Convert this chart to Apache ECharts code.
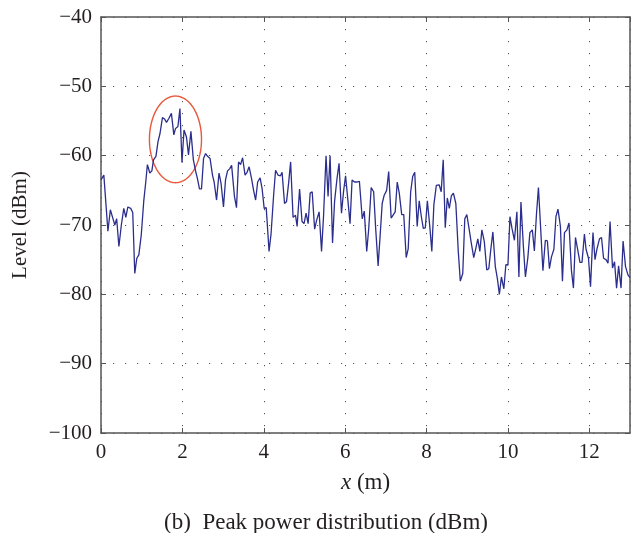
<!DOCTYPE html>
<html>
<head>
<meta charset="utf-8">
<script src="https://cdn.jsdelivr.net/npm/echarts@6/dist/echarts.min.js"></script>
<style>
html,body{margin:0;padding:0;background:#fff;}
#chart{width:631px;height:533px;}
</style>
</head>
<body>
<div id="chart"></div>
<script>
// Distance along path (m)
const xs = [
0.00,0.07,0.17,0.23,0.29,0.34,0.385,0.44,0.50,0.56,0.61,0.66,0.73,0.78,0.83,0.88,0.93,0.99,1.05,1.10,
1.14,1.20,1.25,1.29,1.35,1.40,1.45,1.51,1.56,1.61,1.67,1.73,1.79,1.83,1.89,1.94,1.99,2.04,2.10,2.15,
2.21,2.27,2.32,2.37,2.42,2.47,2.52,2.57,2.62,2.68,2.74,2.78,2.84,2.90,2.95,3.01,3.06,3.11,3.16,3.21,
3.28,3.33,3.38,3.43,3.48,3.54,3.59,3.64,3.70,3.75,3.80,3.85,3.91,3.96,4.01,4.06,4.13,4.18,4.24,4.29,
4.35,4.41,4.45,4.51,4.56,4.61,4.66,4.72,4.78,4.82,4.88,4.94,4.99,5.04,5.09,5.14,5.19,5.25,5.30,5.36,
5.42,5.47,5.53,5.58,5.63,5.69,5.74,5.80,5.85,5.91,5.96,6.01,6.07,6.12,6.17,6.23,6.28,6.35,6.42,6.47,
6.53,6.58,6.64,6.70,6.75,6.81,6.86,6.91,6.96,7.02,7.07,7.13,7.17,7.23,7.28,7.33,7.39,7.44,7.50,7.55,
7.61,7.66,7.71,7.77,7.82,7.87,7.92,7.97,8.02,8.08,8.13,8.18,8.24,8.31,8.36,8.41,8.46,8.51,8.56,8.61,
8.66,8.72,8.78,8.83,8.89,8.94,8.99,9.05,9.10,9.16,9.21,9.26,9.31,9.36,9.42,9.48,9.53,9.58,9.63,9.69,
9.74,9.79,9.84,9.90,9.95,10.00,10.05,10.10,10.16,10.22,10.27,10.32,10.38,10.43,10.49,10.54,10.60,10.65,10.70,10.75,
10.80,10.86,10.92,10.97,11.02,11.07,11.13,11.18,11.23,11.29,11.34,11.39,11.45,11.50,11.56,11.61,11.66,11.71,11.77,11.82,
11.88,11.92,11.98,12.03,12.09,12.14,12.19,12.25,12.30,12.35,12.41,12.46,12.51,12.57,12.62,12.67,12.72,12.78,12.83,12.89,
12.95,13.00
];
// Peak power level (dBm)
const levels = [
-63.5,-62.8,-70.9,-67.8,-69.0,-70.0,-69.1,-73.1,-70.0,-67.6,-68.9,-67.4,-67.6,-68.2,-77.0,-74.8,-74.3,-71.4,-66.6,-63.8,
-61.3,-62.5,-62.2,-60.6,-60.1,-58.0,-56.8,-54.5,-54.7,-55.2,-54.6,-53.9,-57.0,-56.1,-55.8,-53.2,-61.0,-56.3,-57.3,-59.9,
-56.5,-60.6,-62.1,-63.3,-64.8,-64.8,-60.4,-59.7,-60.1,-60.4,-62.8,-63.8,-66.4,-62.5,-64.0,-67.4,-63.5,-62.2,-61.9,-61.4,
-65.9,-67.5,-60.9,-61.3,-60.3,-62.8,-62.4,-61.6,-63.3,-65.0,-66.4,-63.8,-63.2,-64.8,-67.6,-67.5,-73.8,-71.2,-65.9,-62.1,
-62.8,-62.9,-62.4,-66.9,-66.6,-64.0,-60.9,-68.9,-68.6,-70.2,-64.8,-69.5,-69.8,-68.3,-69.8,-65.4,-65.2,-70.6,-69.3,-68.1,
-73.8,-68.6,-60.0,-65.9,-60.0,-72.6,-66.6,-63.3,-61.1,-68.3,-65.2,-62.9,-66.6,-69.8,-63.5,-63.8,-63.8,-63.7,-69.1,-68.0,
-73.8,-70.5,-64.6,-65.2,-70.5,-75.9,-71.5,-66.9,-65.7,-65.0,-62.3,-69.0,-68.8,-68.1,-63.8,-65.4,-68.5,-68.5,-74.7,-73.4,
-65.2,-63.0,-62.4,-70.2,-66.5,-68.7,-70.5,-70.4,-66.5,-70.2,-73.8,-67.1,-64.3,-64.2,-65.2,-60.6,-70.4,-66.1,-67.6,-65.8,
-65.4,-66.9,-73.8,-78.1,-77.0,-69.1,-68.5,-70.7,-72.6,-74.7,-73.4,-72.0,-73.8,-70.7,-72.4,-76.5,-76.3,-73.5,-71.0,-76.0,
-77.7,-80.0,-77.5,-79.2,-75.7,-75.8,-68.8,-70.5,-72.2,-68.1,-77.5,-66.7,-73.1,-77.5,-74.7,-71.1,-70.7,-73.75,-68.6,-64.6,
-70.0,-76.6,-72.2,-72.3,-76.3,-74.6,-73.5,-68.8,-67.7,-70.2,-78.1,-71.1,-70.7,-69.7,-76.5,-79.1,-71.8,-73.4,-75.4,-75.4,
-71.3,-73.5,-74.8,-78.9,-71.1,-75.0,-73.4,-72.0,-71.8,-74.8,-75.0,-75.5,-69.5,-76.2,-75.3,-79.1,-75.9,-79.1,-72.3,-76.0,
-77.2,-77.6
];
// Highlight annotation (ellipse around the peak region), in data units: [cx, cy, rx, ry]
const highlight = [[1.83, -57.65, 0.64, 6.25]];

const FONT = 'Liberation Serif';
const TXT = '#231f20';
const minus = v => String(v).replace('-', '\u2212');
const axisCol = '#555';
const gridDot = {color: '#555', width: 1, type: [1.2, 10.8]};

const chart = echarts.init(document.getElementById('chart'), null, {renderer: 'canvas'});
chart.setOption({
  animation: false,
  backgroundColor: '#fff',
  title: {
    text: '(b)  Peak power distribution (dBm)',
    left: 321, top: 506, textAlign: 'center',
    textStyle: {fontFamily: FONT, fontSize: 23, fontWeight: 'normal', color: TXT}
  },
  grid: {left: 101, right: 1, top: 17, bottom: 100, containLabel: false},
  xAxis: [{
    type: 'value', min: 0, max: 13, interval: 2,
    name: '{i|x} (m)', nameLocation: 'middle', nameGap: 38,
    nameTextStyle: {fontFamily: FONT, fontSize: 23, color: TXT,
      rich: {i: {fontFamily: FONT, fontSize: 23, fontStyle: 'italic', color: TXT}}},
    axisLine: {show: true, onZero: false, lineStyle: {color: axisCol, width: 1.5}},
    axisTick: {show: true, inside: true, length: 5, lineStyle: {color: axisCol}},
    axisLabel: {fontFamily: FONT, fontSize: 21, color: TXT, margin: 9, formatter: minus,
      showMaxLabel: false},
    splitLine: {show: true, lineStyle: gridDot}
  }, {
    type: 'value', min: 0, max: 13, interval: 2, position: 'top',
    axisLine: {show: true, onZero: false, lineStyle: {color: axisCol, width: 1.5}},
    axisTick: {show: true, inside: true, length: 5, lineStyle: {color: axisCol}},
    axisLabel: {show: false}, splitLine: {show: false}
  }],
  yAxis: [{
    type: 'value', min: -100, max: -40, interval: 10,
    name: 'Level (dBm)', nameLocation: 'middle', nameGap: 70,
    nameTextStyle: {fontFamily: FONT, fontSize: 21, color: TXT},
    axisLine: {show: true, onZero: false, lineStyle: {color: axisCol, width: 1.5}},
    axisTick: {show: true, inside: true, length: 5, lineStyle: {color: axisCol}},
    axisLabel: {fontFamily: FONT, fontSize: 21, color: TXT, margin: 9, formatter: minus},
    splitLine: {show: true, lineStyle: gridDot}
  }, {
    type: 'value', min: -100, max: -40, interval: 10, position: 'right',
    axisLine: {show: true, onZero: false, lineStyle: {color: axisCol, width: 1.5}},
    axisTick: {show: true, inside: true, length: 5, lineStyle: {color: axisCol}},
    axisLabel: {show: false}, splitLine: {show: false}
  }],
  series: [{
    type: 'line',
    data: xs.map((x, i) => [x, levels[i]]),
    showSymbol: false, symbol: 'none',
    lineStyle: {color: '#2B2E8C', width: 1.3},
    clip: true
  }, {
    type: 'custom',
    data: highlight,
    clip: false,
    renderItem: function (params, api) {
      const cx = api.value(0), cy = api.value(1), rx = api.value(2), ry = api.value(3);
      const pts = [];
      for (let k = 0; k < 120; k++) {
        const t = 2 * Math.PI * k / 120;
        pts.push(api.coord([cx + rx * Math.cos(t), cy + ry * Math.sin(t)]));
      }
      return {
        type: 'polygon',
        shape: {points: pts},
        style: {fill: 'none', stroke: '#E8583A', lineWidth: 1.4}
      };
    }
  }]
});
</script>
</body>
</html>
